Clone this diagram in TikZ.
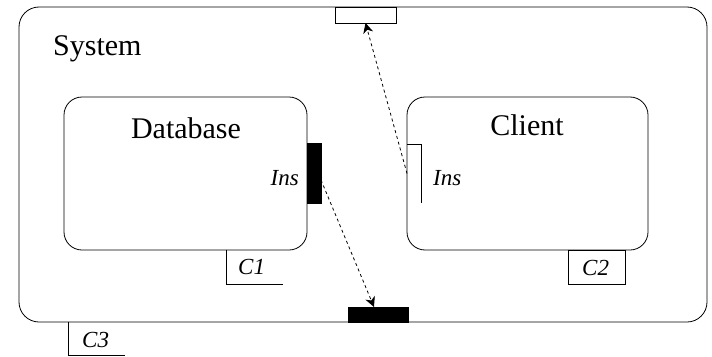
\documentclass[tikz,border=0pt]{standalone}
\usepackage{fontspec}
\setmainfont{Liberation Serif}
\usetikzlibrary{arrows.meta}
\begin{document}
\begin{tikzpicture}[x=1pt,y=-1pt,
  box/.style={draw, line width=0.8pt, inner sep=0pt, outer sep=0pt, anchor=north west},
  blackport/.style={draw, fill=black, line width=0.8pt, inner sep=0pt, outer sep=0pt, anchor=north west},
  whiteport/.style={draw, fill=white, line width=0.8pt, inner sep=0pt, outer sep=0pt, anchor=north west},
  title/.style={inner sep=0pt, font=\fontsize{30}{36}\selectfont},
  small/.style={inner sep=0pt, font=\fontsize{23}{27}\selectfont\itshape},
  tag/.style={inner sep=0pt, outer sep=0pt, anchor=north west},
  edge/.style={line width=0.8pt},
  link/.style={dashed, dash pattern=on 3pt off 3pt, line width=0.8pt, -{Stealth[length=10pt,width=10pt,inset=3pt]}}
]
\useasboundingbox (0,0) rectangle (712,356);
% outer system box
\node[box, rounded corners=20pt, minimum width=688pt, minimum height=315pt] (sys) at (19,7) {};
\node[title, anchor=base west] (systxt) at (53,55) {System};
% database
\node[box, rounded corners=18pt, minimum width=243pt, minimum height=153pt] (db) at (64,97) {};
\node[title, anchor=base] (dbtxt) at (186,138) {Database};
% client
\node[box, rounded corners=18pt, minimum width=241pt, minimum height=153pt] (cl) at (407,97) {};
\node[title, anchor=base] (cltxt) at (527,135) {Client};
% ports
\node[blackport, minimum width=14pt, minimum height=60pt] (dbport) at (307,143) {};
\node[tag, minimum width=14pt, minimum height=59pt] (clport) at (407,144) {};
\draw[edge] (clport.north west) -- (clport.north east) -- (clport.south east);
\node[whiteport, minimum width=61pt, minimum height=16pt] (topport) at (335,7) {};
\node[blackport, minimum width=60pt, minimum height=15pt] (botport) at (348,307) {};
\node[small, anchor=base east] (dbins) at (299,185) {Ins};
\node[small, anchor=base west] (clins) at (433,185) {Ins};
% C tags
\node[tag, minimum width=57pt, minimum height=34pt] (c1) at (226,250) {};
\draw[edge] (c1.north west) -- (c1.south west) -- (c1.south east);
\node[small, anchor=base west] (c1txt) at (238,274) {C1};
\node[box, minimum width=57pt, minimum height=34pt] (c2) at (568,250) {};
\node[small, anchor=base west] (c2txt) at (582,275) {C2};
\node[tag, minimum width=57pt, minimum height=33pt] (c3) at (68,322) {};
\draw[edge] (c3.north west) -- (c3.south west) -- (c3.south east);
\node[small, anchor=base west] (c3txt) at (82,347) {C3};
% connectors
\draw[link] ([yshift=-7pt]dbport.east) -- ([xshift=-4pt]botport.north);
\draw[link] (clport.west) -- (topport.south);
\end{tikzpicture}
\end{document}
